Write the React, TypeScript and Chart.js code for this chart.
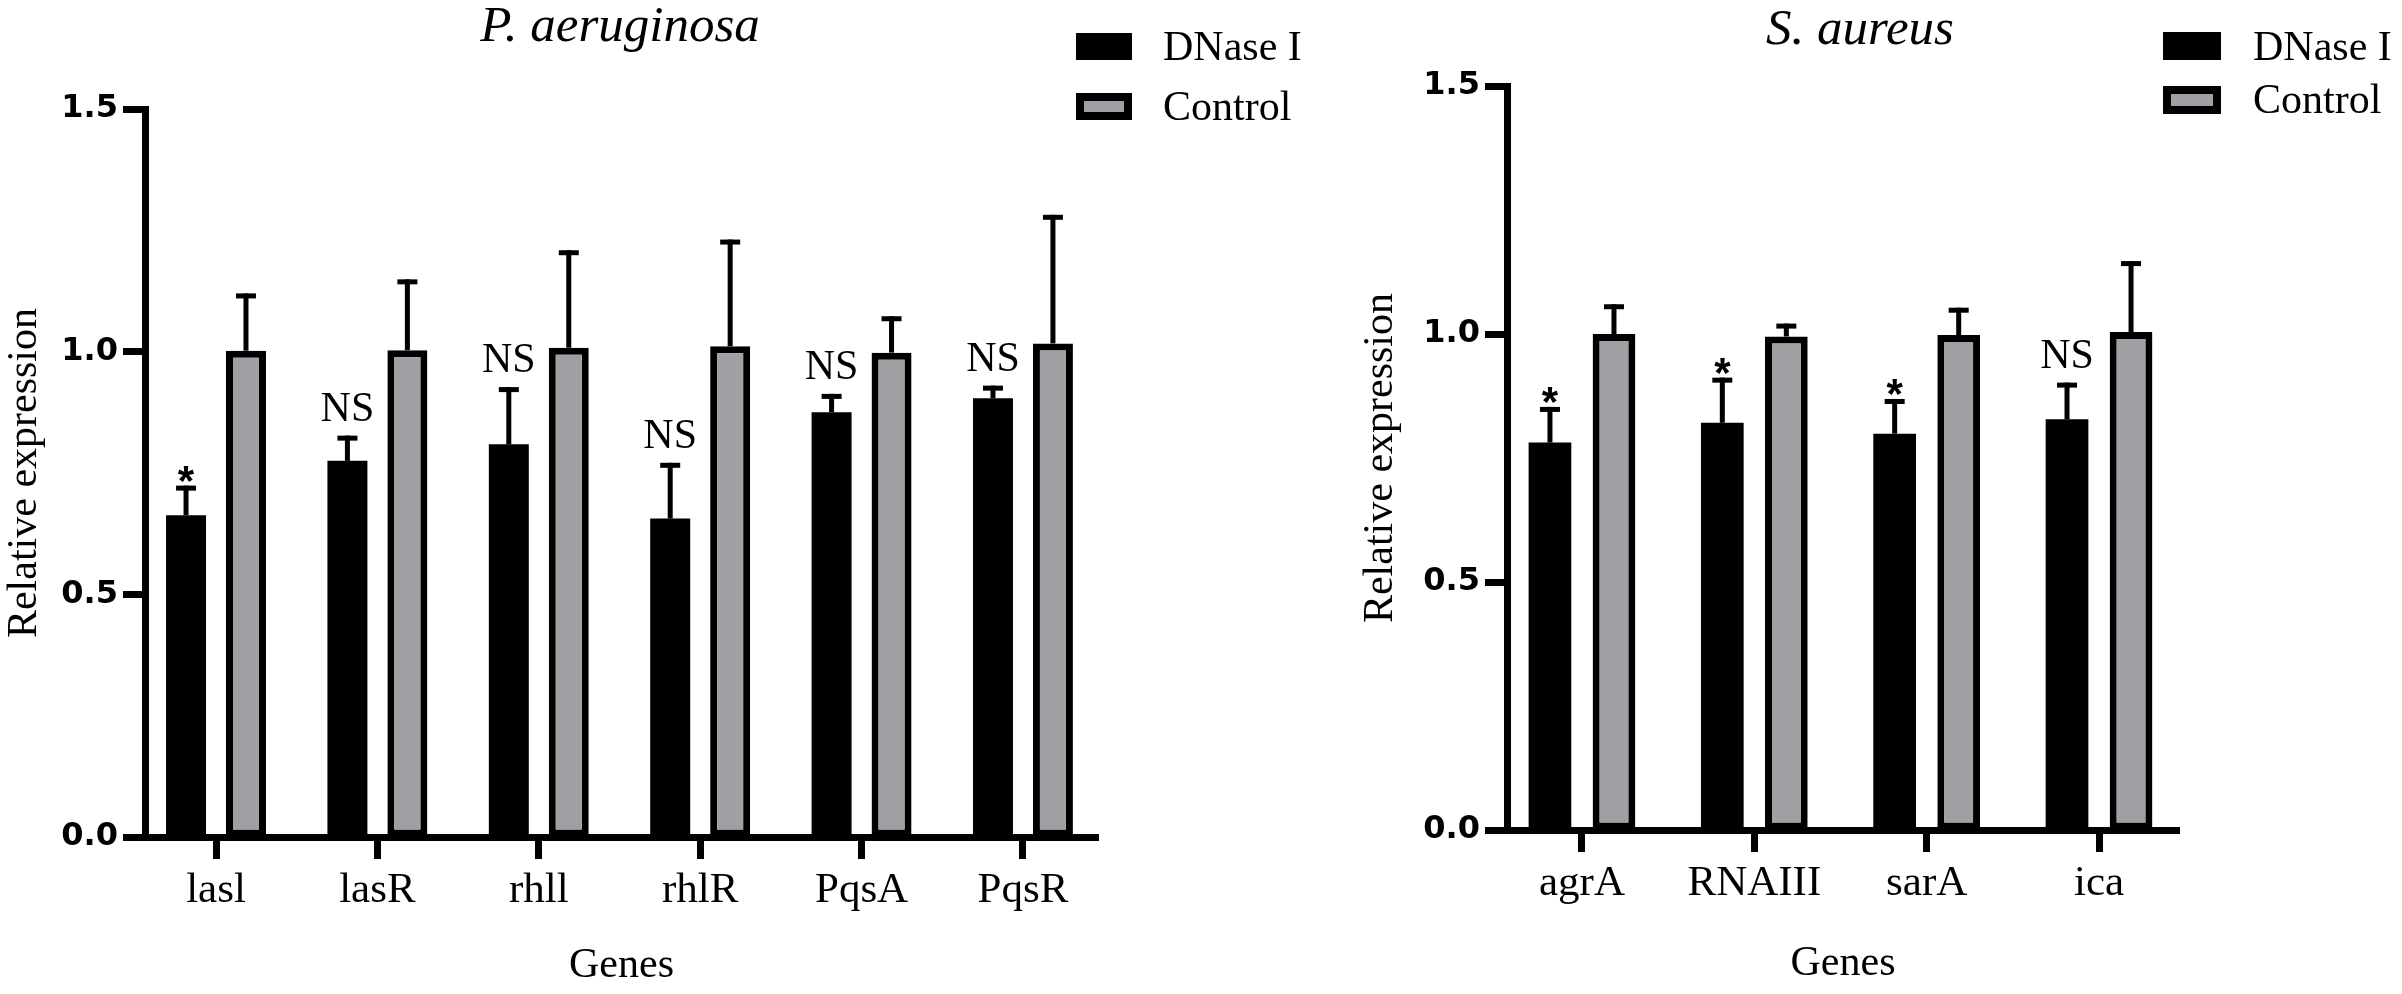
import { useEffect, useRef } from "react";
import { Chart, registerables } from "chart.js";

Chart.register(...registerables);

// P. aeruginosa
const PA_GENES = ["lasl", "lasR", "rhll", "rhlR", "PqsA", "PqsR"];
const PA_DNASE = [0.663, 0.775, 0.809, 0.656, 0.875, 0.904];
const PA_DNASE_SD = [0.061, 0.052, 0.118, 0.115, 0.038, 0.026];
const PA_CONTROL = [1.002, 1.003, 1.008, 1.011, 0.998, 1.017];
const PA_CONTROL_SD = [0.118, 0.146, 0.201, 0.22, 0.075, 0.265];
const PA_MARKS = ["*", "NS", "NS", "NS", "NS", "NS"];

// S. aureus
const SA_GENES = ["agrA", "RNAIII", "sarA", "ica"];
const SA_DNASE = [0.781, 0.821, 0.799, 0.828];
const SA_DNASE_SD = [0.072, 0.091, 0.07, 0.074];
const SA_CONTROL = [1.0, 0.995, 0.998, 1.004];
const SA_CONTROL_SD = [0.06, 0.026, 0.055, 0.143];
const SA_MARKS = ["*", "*", "*", "NS"];

const Y_TICKS = [0, 0.5, 1.0, 1.5];
const SERIES = ["DNase I", "Control"];

const BLACK = "#000000";
const GREY = "#a0a0a4";
const SERIF = "'Liberation Serif', 'Times New Roman', serif";
const SANS = "'Liberation Sans', Arial, sans-serif";
const WIDE_SANS = "'DejaVu Sans', Verdana, sans-serif";

interface PanelProps {
  title: string;
  genes: string[];
  dnase: number[];
  dnaseSd: number[];
  control: number[];
  controlSd: number[];
  marks: string[];
  xMin: number;
  xMax: number;
  pad: { top: number; right: number };
  yWidth: number;
  xHeight: number;
  yTitlePad: number;
  xTitlePad: number;
  titlePos: [number, number];
  legend: { x: number; y: number[]; w: number; h: number; textX: number; base: number[] };
}

function Panel(p: PanelProps) {
  const canvasRef = useRef<HTMLCanvasElement>(null);

  useEffect(() => {
    const canvas = canvasRef.current;
    if (!canvas) return;
    const sds = [p.dnaseSd, p.controlSd];

    const decor = {
      id: "decor",
      afterDatasetsDraw(chart: Chart) {
        const ctx = chart.ctx;
        const ys = chart.scales.y;
        ctx.save();
        ctx.fillStyle = BLACK;
        chart.data.datasets.forEach((ds, di) => {
          const meta = chart.getDatasetMeta(di);
          meta.data.forEach((bar: any, i) => {
            const v = (ds.data[i] as any).y as number;
            const errY = ys.getPixelForValue(v + sds[di][i]);
            // upper error bar: stem + cap
            ctx.fillRect(bar.x - 2.5, errY, 5, bar.y - errY);
            ctx.fillRect(bar.x - 10, errY, 20, 5);
            if (di === 0) {
              const m = p.marks[i];
              ctx.textAlign = "center";
              ctx.textBaseline = "alphabetic";
              if (m === "*") {
                ctx.font = `bold 42px ${SANS}`;
                ctx.fillText(m, bar.x, errY + 9);
              } else {
                ctx.font = `42px ${SERIF}`;
                ctx.fillText(m, bar.x, errY - 15);
              }
            }
          });
        });
        ctx.restore();
      },
      afterDraw(chart: Chart) {
        const ctx = chart.ctx;
        const lg = p.legend;
        ctx.save();
        ctx.font = `italic 51px ${SERIF}`;
        ctx.fillStyle = BLACK;
        ctx.textAlign = "center";
        ctx.textBaseline = "alphabetic";
        ctx.fillText(p.title, p.titlePos[0], p.titlePos[1]);

        ctx.font = `42px ${SERIF}`;
        ctx.textAlign = "left";
        SERIES.forEach((name, i) => {
          ctx.fillStyle = BLACK;
          ctx.fillRect(lg.x, lg.y[i], lg.w, lg.h);
          if (i === 1) {
            ctx.fillStyle = GREY;
            ctx.fillRect(lg.x + 8, lg.y[i] + 8, lg.w - 16, lg.h - 16);
          }
          ctx.fillStyle = BLACK;
          ctx.fillText(name, lg.textX, lg.base[i]);
        });
        ctx.restore();
      },
    };

    const chart = new Chart(canvas, {
      type: "bar",
      data: {
        datasets: [
          {
            label: SERIES[0],
            data: p.dnase.map((v, i) => ({ x: i, y: v })),
            backgroundColor: BLACK,
            borderColor: BLACK,
            borderWidth: 0,
            categoryPercentage: 0.743,
            barPercentage: 0.667,
          },
          {
            label: SERIES[1],
            data: p.control.map((v, i) => ({ x: i, y: v })),
            backgroundColor: GREY,
            borderColor: BLACK,
            borderWidth: 7,
            borderSkipped: false,
            categoryPercentage: 0.743,
            barPercentage: 0.667,
          },
        ],
      },
      options: {
        animation: false,
        responsive: true,
        maintainAspectRatio: false,
        layout: { padding: { top: p.pad.top, right: p.pad.right, left: 0, bottom: 0 } },
        plugins: { legend: { display: false }, tooltip: { enabled: false } },
        scales: {
          x: {
            type: "linear",
            min: p.xMin,
            max: p.xMax,
            offset: false,
            afterFit: (s: any) => {
              s.height = p.xHeight;
            },
            grid: {
              display: true,
              offset: false,
              drawOnChartArea: false,
              drawTicks: true,
              tickLength: 22,
              tickWidth: 7,
              tickColor: BLACK,
              color: BLACK,
            },
            border: { display: true, color: BLACK, width: 7 },
            ticks: {
              stepSize: 1,
              includeBounds: false,
              autoSkip: false,
              maxRotation: 0,
              padding: 6,
              color: BLACK,
              font: { family: SERIF, size: 43 },
              callback: (v: any) => p.genes[v as number] ?? "",
            },
            title: {
              display: true,
              text: "Genes",
              color: BLACK,
              font: { family: SERIF, size: 42 },
              padding: { top: 0, bottom: p.xTitlePad },
            },
          },
          y: {
            min: Y_TICKS[0],
            max: Y_TICKS[Y_TICKS.length - 1],
            afterFit: (s: any) => {
              s.width = p.yWidth;
            },
            afterBuildTicks: (s: any) => {
              s.ticks = Y_TICKS.map((value) => ({ value }));
            },
            grid: {
              display: true,
              drawOnChartArea: false,
              drawTicks: true,
              tickLength: 22,
              tickWidth: 7,
              tickColor: BLACK,
              color: BLACK,
            },
            border: { display: true, color: BLACK, width: 7 },
            ticks: {
              padding: 5,
              color: BLACK,
              font: { family: WIDE_SANS, size: 32, weight: "bold" },
              callback: (v: any) => Number(v).toFixed(1),
            },
            title: {
              display: true,
              text: "Relative expression",
              color: BLACK,
              font: { family: SERIF, size: 42 },
              padding: { top: p.yTitlePad, bottom: 0 },
            },
          },
        },
      },
      plugins: [decor],
    } as any);

    return () => {
      chart.destroy();
    };
  }, [p]);

  return <canvas ref={canvasRef} />;
}

const LEFT: PanelProps = {
  title: "P. aeruginosa",
  genes: PA_GENES,
  dnase: PA_DNASE,
  dnaseSd: PA_DNASE_SD,
  control: PA_CONTROL,
  controlSd: PA_CONTROL_SD,
  marks: PA_MARKS,
  xMin: -0.44,
  xMax: 5.465,
  pad: { top: 109, right: 232 },
  yWidth: 145,
  xHeight: 157,
  yTitlePad: 0,
  xTitlePad: 3,
  titlePos: [620, 41],
  legend: { x: 1076, y: [33, 93], w: 56, h: 27, textX: 1163, base: [60, 120] },
};

const RIGHT: PanelProps = {
  title: "S. aureus",
  genes: SA_GENES,
  dnase: SA_DNASE,
  dnaseSd: SA_DNASE_SD,
  control: SA_CONTROL,
  controlSd: SA_CONTROL_SD,
  marks: SA_MARKS,
  xMin: -0.435,
  xMax: 3.464,
  pad: { top: 86, right: 223 },
  yWidth: 177,
  xHeight: 164,
  yTitlePad: 26,
  xTitlePad: 5,
  titlePos: [530, 44],
  legend: { x: 833, y: [32, 86], w: 58, h: 28, textX: 923, base: [60, 113] },
};

export default function App() {
  return (
    <div
      style={{
        position: "fixed",
        left: 0,
        top: 0,
        width: 2402,
        height: 994,
        background: "#ffffff",
      }}
    >
      <div style={{ position: "absolute", left: 0, top: 0, width: 1330, height: 994 }}>
        <Panel {...LEFT} />
      </div>
      <div style={{ position: "absolute", left: 1330, top: 0, width: 1072, height: 994 }}>
        <Panel {...RIGHT} />
      </div>
    </div>
  );
}
